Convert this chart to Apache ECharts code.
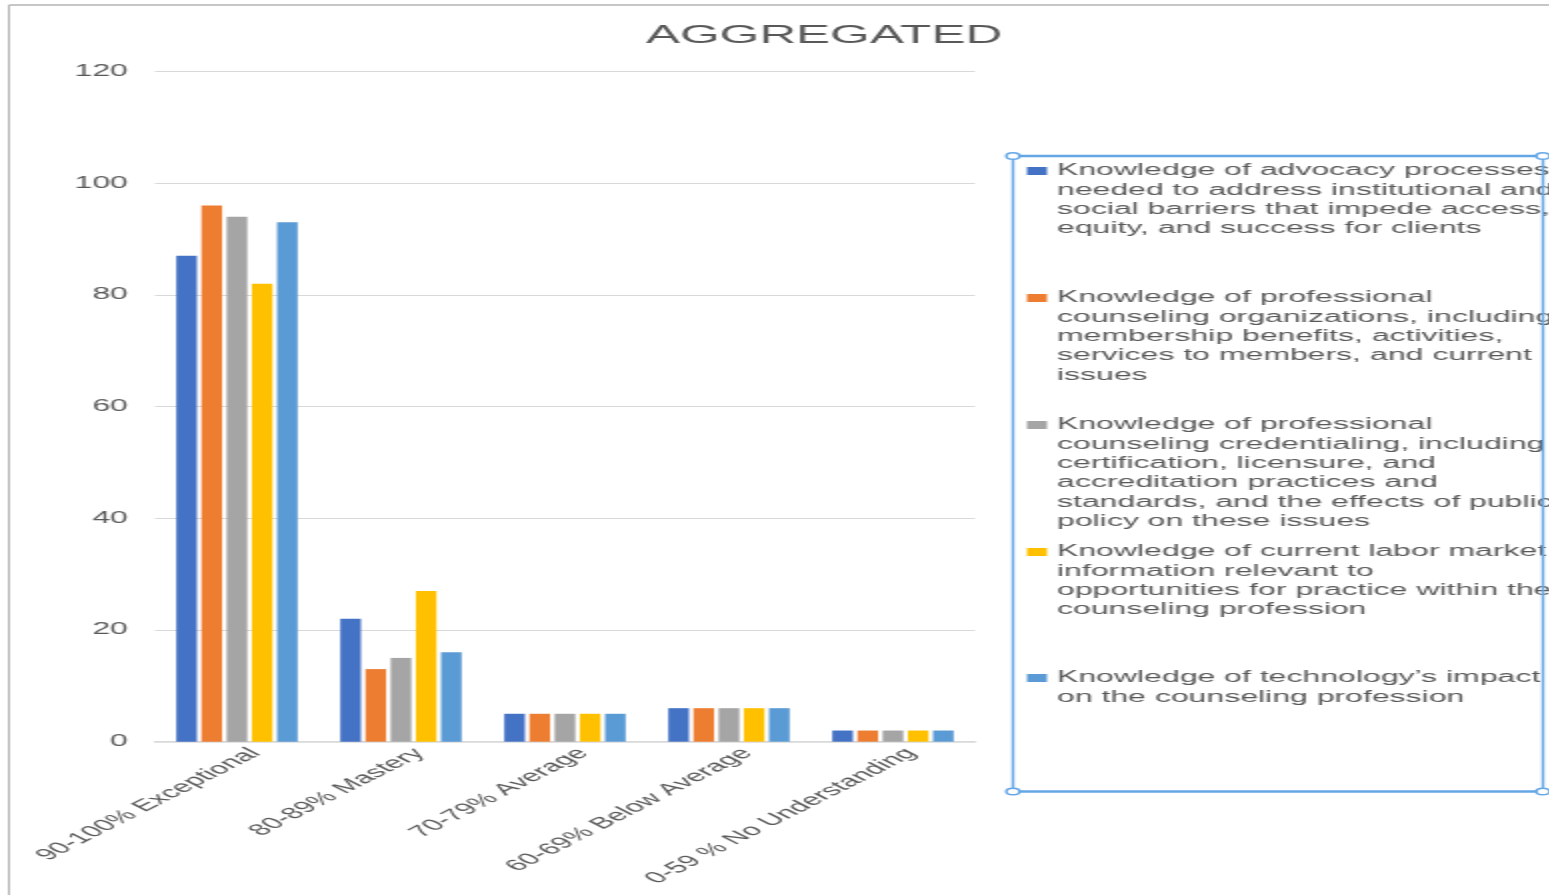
<!DOCTYPE html>
<html>
<head>
<meta charset="utf-8">
<title>AGGREGATED</title>
<script src="https://cdn.jsdelivr.net/npm/echarts@6/dist/echarts.min.js"></script>
<style>
  html, body { margin: 0; padding: 0; width: 1549px; height: 895px; overflow: hidden; background: #fff; }
  /* the chart is laid out at half width and stretched horizontally */
  #chart { width: 775px; height: 895px; transform: scaleX(2); transform-origin: 0 0; }
</style>
</head>
<body>
<div id="chart"></div>
<script>
// ---- data ----
const categories = [
  '90-100% Exceptional',
  '80-89% Mastery',
  '70-79% Average',
  '60-69% Below Average',
  '0-59 % No Understanding'
];
const advocacy      = [87, 22, 5, 6, 2];
const organizations = [96, 13, 5, 6, 2];
const credentialing = [94, 15, 5, 6, 2];
const laborMarket   = [82, 27, 5, 6, 2];
const technology    = [93, 16, 5, 6, 2];

// legend labels, one array of wrapped lines per series
const advocacyLabel = [
  'Knowledge of advocacy processes',
  'needed to address institutional and',
  'social barriers that impede access,',
  'equity, and success for clients'
];
const organizationsLabel = [
  'Knowledge of professional',
  'counseling organizations, including',
  'membership benefits, activities,',
  'services to members, and current',
  'issues'
];
const credentialingLabel = [
  'Knowledge of professional',
  'counseling credentialing, including',
  'certification, licensure, and',
  'accreditation practices and',
  'standards, and the effects of public',
  'policy on these issues'
];
const laborMarketLabel = [
  'Knowledge of current labor market',
  'information relevant to',
  'opportunities for practice within the',
  'counseling profession'
];
const technologyLabel = [
  'Knowledge of technology\u2019s impact',
  'on the counseling profession'
];

const yMin = 0, yMax = 120, yStep = 20;

// ---- styling ----
const FONT = '"Liberation Sans", Arial, Helvetica, sans-serif';
const TEXT = '#595959';
const GRID_LINE = '#d9d9d9';
const SEL = '#64a6e6';
const colors = ['#4472c4', '#ed7d31', '#a5a5a5', '#ffc000', '#5b9bd5'];

const seriesData = [advocacy, organizations, credentialing, laborMarket, technology];
const labels = [advocacyLabel, organizationsLabel, credentialingLabel, laborMarketLabel, technologyLabel];
const names = labels.map(l => l.join(' '));

// legend entries: the icon sits beside the first line of each wrapped label.
// The icon box is as tall as the whole label; the visible swatch is drawn at its top.
const LH = 19.3;
const SW = 10, SH = 8;
const legendFirstLine = [171, 298, 425, 552, 678];
const legends = labels.map((lines, i) => {
  const h = lines.length * LH;
  const sy = (LH - SH) / 2;
  return {
    orient: 'vertical',
    left: 513.5,
    top: legendFirstLine[i] - LH / 2,
    padding: 0,
    itemGap: 0,
    itemWidth: SW,
    itemHeight: h,
    icon: `path://M0,0M${SW},${h}M0,${sy}h${SW}v${SH}h-${SW}z`,
    selectedMode: false,
    data: [names[i]],
    formatter: () => lines.join('\n'),
    textStyle: { fontFamily: FONT, fontSize: 16, lineHeight: LH, color: TEXT }
  };
});

// frame and selection box around the legend
const boxL = 506.5, boxR = 771.5, boxT = 156, boxB = 791.5;
const handle = (x, y) => ({
  type: 'circle', z: 100,
  shape: { cx: x, cy: y, r: 3.3 },
  style: { fill: '#fff', stroke: SEL, lineWidth: 1.4 }
});
const graphics = [
  { type: 'line', z: 90, shape: { x1: 4.5, y1: 5, x2: 775, y2: 5 }, style: { stroke: '#b3b3b3', lineWidth: 1.5 } },
  { type: 'line', z: 90, shape: { x1: 4.5, y1: 5, x2: 4.5, y2: 895 }, style: { stroke: '#b3b3b3', lineWidth: 1 } },
  { type: 'line', z: 99, shape: { x1: boxL, y1: boxT, x2: boxR, y2: boxT }, style: { stroke: SEL, lineWidth: 2.5 } },
  { type: 'line', z: 99, shape: { x1: boxL, y1: boxB, x2: boxR, y2: boxB }, style: { stroke: SEL, lineWidth: 2.5 } },
  { type: 'line', z: 99, shape: { x1: boxL, y1: boxT, x2: boxL, y2: boxB }, style: { stroke: SEL, lineWidth: 1.4 } },
  { type: 'line', z: 99, shape: { x1: boxR, y1: boxT, x2: boxR, y2: boxB }, style: { stroke: SEL, lineWidth: 1.4 } },
  handle(boxL, boxT), handle(boxR, boxT), handle(boxL, boxB), handle(boxR, boxB)
];

const chart = echarts.init(document.getElementById('chart'), null, { renderer: 'canvas' });
chart.setOption({
  animation: false,
  color: colors,
  textStyle: { fontFamily: FONT },
  title: {
    text: 'AGGREGATED',
    left: 323,
    top: 23,
    padding: 0,
    textStyle: { fontFamily: FONT, fontSize: 25.5, fontWeight: 'normal', color: TEXT }
  },
  legend: legends,
  grid: { left: 77.5, right: 287.5, top: 71.5, bottom: 153.3, containLabel: false },
  xAxis: {
    type: 'category',
    data: categories,
    axisTick: { show: false },
    axisLine: { lineStyle: { color: GRID_LINE, width: 1.5 } },
    axisLabel: {
      interval: 0,
      rotate: 45,
      margin: 0,
      verticalAlign: 'top',
      padding: [5, 0, 0, 0],
      fontFamily: FONT,
      fontSize: 16,
      color: TEXT
    }
  },
  yAxis: {
    type: 'value',
    min: yMin,
    max: yMax,
    interval: yStep,
    axisLine: { show: false },
    axisTick: { show: false },
    splitLine: { lineStyle: { color: GRID_LINE, width: 1 } },
    axisLabel: { margin: 13.5, fontFamily: FONT, fontSize: 16, color: TEXT }
  },
  series: seriesData.map((d, i) => ({
    name: names[i],
    type: 'bar',
    data: d,
    barGap: '22%',
    barCategoryGap: '26%',
    itemStyle: { color: colors[i] }
  })),
  graphic: graphics
});
</script>
</body>
</html>
